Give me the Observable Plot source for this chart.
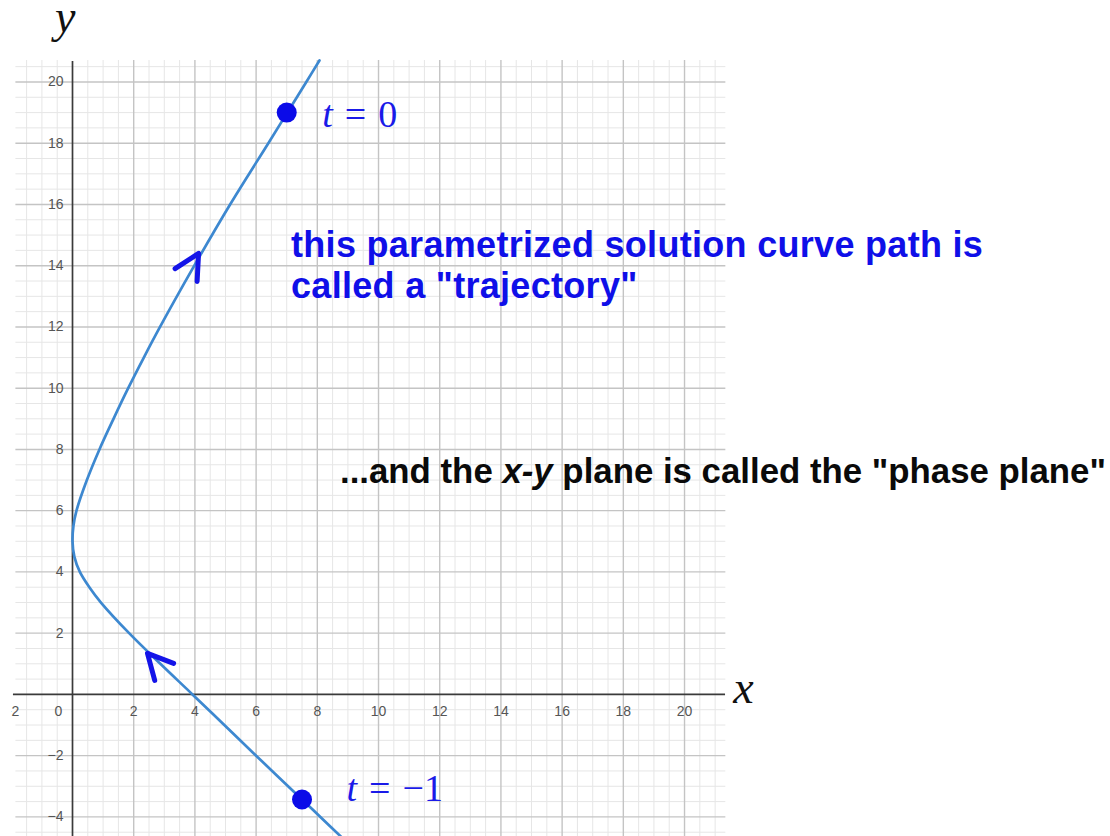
<!DOCTYPE html>
<html>
<head>
<meta charset="utf-8">
<script src="https://cdn.jsdelivr.net/npm/d3@7"></script>
<script src="https://cdn.jsdelivr.net/npm/@observablehq/plot@0.6"></script>
<style>
  html, body { margin: 0; padding: 0; background: #fff; }
  #frame { position: absolute; left: 11px; top: 0; width: 1099px; height: 836px; overflow: hidden; }
  #frame svg { display: block; margin-left: -11px; max-width: none !important; width: 1110px !important; height: 836px !important; }
</style>
</head>
<body>
<div id="frame"></div>
<script>
// Trajectory in the phase plane, sampled in order of increasing t
const trajX = [8.83, 8.1, 7.5, 6.0, 4.96, 3.92, 2.87, 1.85, 0.93, 0.55, 0.24, 0.06, 0.0, 0.03, 0.13, 0.47, 0.88, 1.34, 1.82, 2.33, 2.86, 3.98, 5.15, 6.4, 7.02, 7.64, 8.07];
const trajY = [-4.7, -4.0, -3.43, -2.0, -1.0, 0.0, 1.0, 2.0, 3.0, 3.5, 4.0, 4.5, 5.0, 5.5, 6.0, 7.0, 8.0, 9.0, 10.0, 11.0, 12.0, 14.0, 16.0, 18.0, 19.0, 20.0, 20.7];

// Marked instants on the trajectory
const markedT = ["0", "−1"];
const markedX = [7.0, 7.5];
const markedY = [19.0, -3.43];

// Direction arrows along the path (tip position, heading in degrees clockwise from up)
const arrowX = [4.12, 2.45];
const arrowY = [14.4, 1.34];
const arrowHeading = [30, -42];

// Axis ticks and their labels
const xTicks = [-2, 2, 4, 6, 8, 10, 12, 14, 16, 18, 20];
const xTickLabels = ["−2", "2", "4", "6", "8", "10", "12", "14", "16", "18", "20"];
const originLabel = "0";
const yTicks = [-4, -2, 2, 4, 6, 8, 10, 12, 14, 16, 18, 20];
const yTickLabels = ["−4", "−2", "2", "4", "6", "8", "10", "12", "14", "16", "18", "20"];

// Visible extent of the graph paper
const paperX = [-1.85, 21.35];
const paperY = [-4.7, 20.7];

const W = 1110, H = 836;

const traj = trajX.map((x, i) => ({x, y: trajY[i]}));
const marked = markedT.map((t, i) => ({t, x: markedX[i], y: markedY[i]}));
const arrows = arrowX.map((x, i) => ({x, y: arrowY[i], heading: arrowHeading[i]}));
const xTickData = xTicks.map((v, i) => ({v, label: xTickLabels[i]}));
const yTickData = yTicks.map((v, i) => ({v, label: yTickLabels[i]}));

// Grid lines: major every 2 units, minor every 0.5
const majorX = d3.range(2, paperX[1], 2);
const majorY = d3.range(-4, paperY[1], 2).filter(v => v !== 0);
const minorX = d3.range(-1.5, paperX[1], 0.5).filter(v => v % 2 !== 0);
const minorY = d3.range(-4.5, paperY[1], 0.5).filter(v => v % 2 !== 0);

// Open chevron arrowhead with its tip at the anchor point
const halfAngle = 27 * Math.PI / 180;
const chevron = {
  draw(ctx, l) {
    const w = l * Math.sin(halfAngle), h = l * Math.cos(halfAngle);
    ctx.moveTo(-w, h);
    ctx.lineTo(0, 0);
    ctx.lineTo(w, h);
  }
};

const tickFont = "Liberation Sans, Arial, sans-serif";

const plot = Plot.plot({
  width: W,
  height: H,
  margin: 0,
  x: {domain: [-2.353, 33.92], axis: null},
  y: {domain: [-4.64, 22.66], axis: null},
  style: {background: "#fff"},
  marks: [
    Plot.ruleX(minorX, {y1: paperY[0], y2: paperY[1], stroke: "#e6e6e6", strokeWidth: 1}),
    Plot.ruleY(minorY, {x1: paperX[0], x2: paperX[1], stroke: "#e6e6e6", strokeWidth: 1}),
    Plot.ruleX(majorX, {y1: paperY[0], y2: paperY[1], stroke: "#c4c4c4", strokeWidth: 1.4}),
    Plot.ruleY(majorY, {x1: paperX[0], x2: paperX[1], stroke: "#c4c4c4", strokeWidth: 1.4}),
    // axes
    Plot.ruleY([0], {x1: -1.93, x2: 21.34, stroke: "#3a3a3a", strokeWidth: 1.7}),
    Plot.ruleX([0], {y1: paperY[0], y2: 20.67, stroke: "#3a3a3a", strokeWidth: 1.7}),
    // tick labels
    Plot.text(xTickData, {
      x: "v", y: 0, text: "label", dy: 17,
      fontSize: 14, fill: "#555", fontFamily: tickFont
    }),
    Plot.text([originLabel], {
      x: 0, y: 0, text: d => d, dy: 17, dx: -14,
      fontSize: 14, fill: "#555", fontFamily: tickFont
    }),
    Plot.text(yTickData, {
      x: 0, y: "v", text: "label", dx: -9, textAnchor: "end",
      fontSize: 14, fill: "#555", fontFamily: tickFont
    }),
    // the trajectory
    Plot.line(traj, {x: "x", y: "y", curve: "catmull-rom", stroke: "#3d88d0", strokeWidth: 2.7}),
    Plot.vector(arrows, {
      x: "x", y: "y", rotate: "heading", length: 28, anchor: "start", shape: chevron,
      stroke: "#1414e8", strokeWidth: 5, strokeLinecap: "round", strokeLinejoin: "round", fill: "none"
    }),
    Plot.dot(marked, {x: "x", y: "y", r: 10, fill: "#0b0be8"})
  ]
});

document.getElementById("frame").appendChild(plot);

// Mathematical labels and annotations with mixed styles
const sx = plot.scale("x"), sy = plot.scale("y");
const svg = d3.select(plot);
const serif = "Liberation Serif, Times New Roman, serif";
const sans = "Liberation Sans, Arial, sans-serif";

// axis names
svg.append("text").attr("x", sx.apply(0) - 17).attr("y", 32).attr("text-anchor", "start")
  .attr("font-family", serif).attr("font-style", "italic").attr("font-size", 46).attr("fill", "#111").text("y");
svg.append("text").attr("x", sx.apply(paperX[1]) + 8).attr("y", sy.apply(0) + 9).attr("text-anchor", "start")
  .attr("font-family", serif).attr("font-style", "italic").attr("font-size", 46).attr("fill", "#111").text("x");

// "t = value" beside each marked point
const tOffsets = [{dx: 36, dy: 15}, {dx: 45, dy: 2}];
marked.forEach((d, i) => {
  const t = svg.append("text")
    .attr("x", sx.apply(d.x) + tOffsets[i].dx)
    .attr("y", sy.apply(d.y) + tOffsets[i].dy)
    .attr("text-anchor", "start")
    .attr("font-family", serif).attr("font-size", 38).attr("fill", "#1a1ae8");
  t.append("tspan").attr("font-style", "italic").text("t");
  t.append("tspan").attr("dx", 12).text("=");
  t.append("tspan").attr("dx", 12).text(d.t);
});

// annotation about the trajectory
const note1 = svg.append("text").attr("text-anchor", "start").attr("font-family", sans).attr("font-weight", "bold")
  .attr("font-size", 36).attr("letter-spacing", 0.3).attr("fill", "#0f0fe8");
note1.append("tspan").attr("x", 291).attr("y", 257).text("this parametrized solution curve path is");
note1.append("tspan").attr("x", 291).attr("y", 298).text("called a \"trajectory\"");

// annotation about the phase plane
const note2 = svg.append("text").attr("x", 340).attr("y", 483).attr("text-anchor", "start").attr("font-family", sans)
  .attr("font-weight", "bold").attr("font-size", 34.8).attr("fill", "#0a0a0a");
note2.append("tspan").text("...and the ");
note2.append("tspan").attr("font-style", "italic").text("x-y");
note2.append("tspan").text(" plane is called the \"phase plane\"");
</script>
</body>
</html>
